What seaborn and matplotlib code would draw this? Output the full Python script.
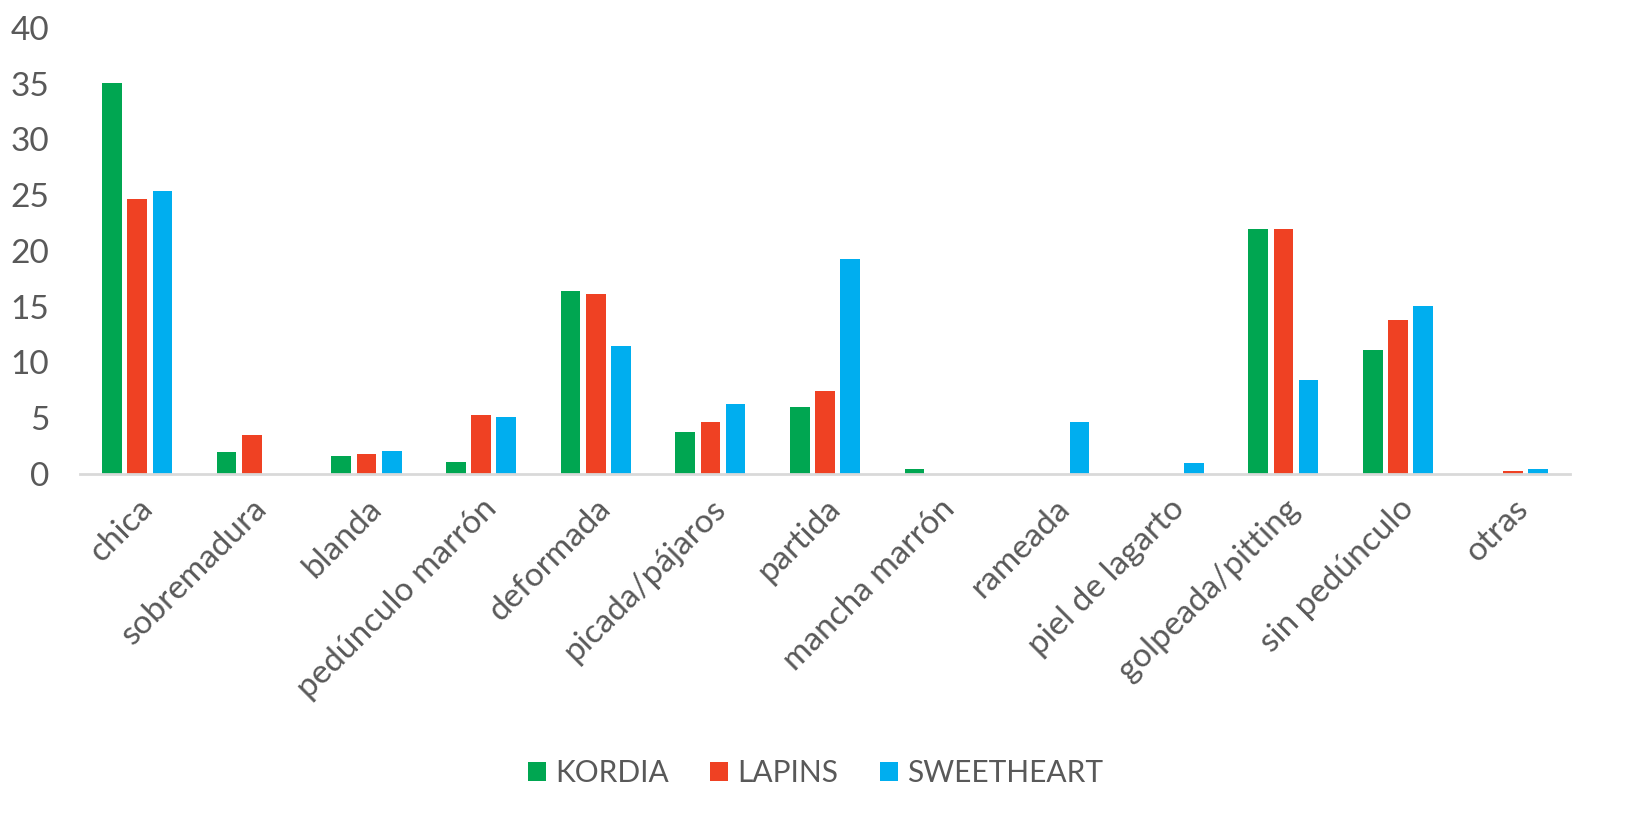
import numpy as np
import pandas as pd
import matplotlib
matplotlib.use("Agg")
import matplotlib.pyplot as plt
import seaborn as sns

# Categories and series values
categorias = ['chica', 'sobremadura', 'blanda', 'pedúnculo marrón', 'deformada',
              'picada/pájaros', 'partida', 'mancha marrón', 'rameada',
              'piel de lagarto', 'golpeada/pitting', 'sin pedúnculo', 'otras']
kordia = [35.1, 2.0, 1.6, 1.1, 16.4, 3.8, 6.0, 0.45, 0, 0, 22.0, 11.1, 0]
lapins = [24.7, 3.5, 1.8, 5.3, 16.1, 4.7, 7.4, 0, 0, 0, 22.0, 13.8, 0.3]
sweetheart = [25.4, 0, 2.1, 5.1, 11.5, 6.3, 19.3, 0, 4.65, 0.95, 8.4, 15.1, 0.45]
variedades = ['KORDIA', 'LAPINS', 'SWEETHEART']
colores = ['#00A651', '#EF4123', '#00AEEF']

# Build long-form table for seaborn
df = pd.DataFrame({
    'categoria': categorias * 3,
    'variedad': np.repeat(variedades, len(categorias)),
    'valor': kordia + lapins + sweetheart,
})

sns.set_style("white")
plt.rcParams['font.family'] = ['Lato', 'DejaVu Sans']
gris = '#595959'

fig = plt.figure(figsize=(16.31, 8.21), dpi=100)
ax = fig.add_axes([0.049, 0.4227, 0.9136, 0.5432])

sns.barplot(data=df, x='categoria', y='valor', hue='variedad', order=categorias,
            hue_order=variedades, palette=colores, width=0.66, gap=0.22,
            linewidth=0, saturation=1, ax=ax, legend=True)

ax.set_ylim(0, 40)
ax.set_yticks(range(0, 41, 5))
ax.set_xlim(-0.5, len(categorias) - 0.5)
ax.set_xlabel('')
ax.set_ylabel('')

for s in ['top', 'right', 'left']:
    ax.spines[s].set_visible(False)
ax.spines['bottom'].set_color('#D9D9D9')
ax.spines['bottom'].set_linewidth(2)
ax.tick_params(axis='both', length=0, colors=gris, labelsize=24)
ax.tick_params(axis='y', pad=22)
ax.tick_params(axis='x', pad=14)
plt.setp(ax.get_xticklabels(), rotation=45, ha='right', va='top', rotation_mode='anchor')

# Legend at the bottom centre
handles, labels = ax.get_legend_handles_labels()
ax.get_legend().remove()
leg = fig.legend(handles, labels, loc='center', bbox_to_anchor=(0.5, 0.058), ncol=3,
                 frameon=False, fontsize=21.5, handlelength=0.6, handleheight=0.6,
                 handletextpad=0.3, columnspacing=1.4)
for t in leg.get_texts():
    t.set_color(gris)

fig.savefig('out.png', dpi=100)
